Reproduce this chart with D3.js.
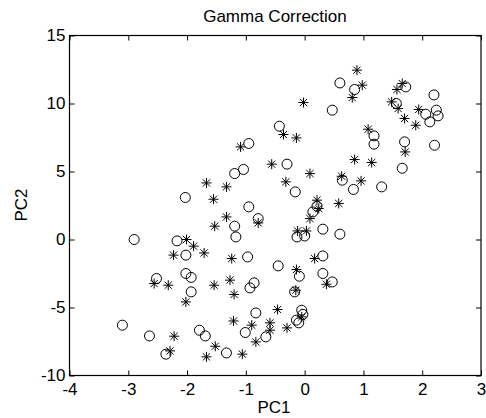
<!DOCTYPE html>
<html>
<head>
<meta charset="utf-8">
<script src="https://cdn.jsdelivr.net/npm/d3@7"></script>
<style>
  html, body { margin: 0; padding: 0; background: #fff; }
  svg { display: block; }
  text { font-family: "Liberation Sans", Arial, sans-serif; fill: #000; }
</style>
</head>
<body>
<svg id="chart" width="486" height="418"></svg>
<script>
const title = "Gamma Correction";
const xLabel = "PC1";
const yLabel = "PC2";
const xTicks = [-4, -3, -2, -1, 0, 1, 2, 3];
const yTicks = [-10, -5, 0, 5, 10, 15];
const xDomain = [-4, 3];
const yDomain = [-10, 15];

// Series 1: circles (PC1, PC2)
const circleX = [0.60, 0.47, -0.43, -0.95, 0.85, 1.72, 2.20, 1.56, 2.24, 2.06, 2.27, 2.13, 1.18, 1.18, 1.70, 2.21,
  1.66, 0.64, 0.83, 1.31, 0.60, -0.30, -1.19, -1.04, -0.16, -0.95, 0.21, 0.14, -0.79, -1.19, -1.17, -0.13,
  0.00, 0.31, -0.97, 0.31, -2.03, -2.90, -2.17, -2.02, -2.52, -2.02, -1.93, -1.93, -3.10, -2.64, -1.79, -1.69,
  -2.36, -0.45, -0.09, 0.31, 0.47, -0.86, -0.93, -0.17, -0.83, -0.05, -0.03, -0.14, -0.10, -1.01, -0.66, -1.33];
const circleY = [11.51, 9.51, 8.33, 7.06, 11.03, 11.22, 10.63, 10.00, 9.51, 9.21, 9.09, 8.65, 7.62, 7.01, 7.18, 6.93,
  5.24, 4.36, 3.68, 3.87, 0.39, 5.54, 4.85, 5.15, 3.50, 2.40, 2.45, 2.03, 1.54, 0.98, 0.19, 0.19,
  0.26, 0.76, -1.28, -1.21, 3.09, 0.00, -0.10, -1.15, -2.87, -2.50, -2.79, -3.85, -6.30, -7.09, -6.67, -7.09,
  -8.43, -1.94, -2.70, -2.50, -3.12, -3.19, -3.56, -3.85, -5.40, -5.20, -5.51, -5.93, -6.13, -6.84, -7.16, -8.34];

// Series 2: asterisks (PC1, PC2)
const starX = [-0.02, -0.36, -0.14, -1.09, 0.89, 0.98, 0.81, 1.66, 1.57, 1.48, 1.59, 1.94, 1.70, 1.89, 1.08, 1.71,
  0.85, 1.14, 0.63, 0.96, 0.58, -0.56, 0.09, -1.67, -1.33, -0.32, -1.55, 0.21, 0.24, 0.09, -1.33, -0.79,
  -1.53, -0.12, 0.03, -1.71, -1.24, 0.17, -2.01, -1.89, -2.23, -2.56, -2.32, -2.02, -2.22, -2.29, -1.67, -0.14,
  0.37, -1.54, -1.27, -1.20, -0.15, -0.46, -0.05, -1.21, -0.90, -0.59, -0.59, -0.30, -0.83, -1.52, -1.06];
const starY = [10.07, 7.72, 7.47, 6.81, 12.45, 11.35, 10.44, 11.47, 11.03, 10.12, 9.63, 9.56, 8.90, 8.40, 8.11, 6.44,
  5.88, 5.66, 4.65, 4.31, 2.65, 5.54, 4.85, 4.16, 3.87, 4.24, 2.96, 2.89, 2.28, 1.54, 1.66, 1.22,
  0.98, 0.63, 0.63, -0.99, -1.40, -1.40, 0.00, -0.49, -1.15, -3.24, -3.36, -4.59, -7.11, -8.19, -8.63, -2.21,
  -3.29, -3.36, -2.99, -4.04, -3.73, -5.15, -5.69, -5.99, -6.30, -6.13, -6.67, -6.50, -7.53, -7.85, -8.43];

const svg = d3.select("#chart");
const L = 69.5, R = 481, T = 35.5, B = 375.5;
const x = d3.scaleLinear().domain(xDomain).range([L, R]);
const y = d3.scaleLinear().domain(yDomain).range([B, T]);
const FS = 17;
const fmt = d => String(d); // plain hyphen-minus like the reference

// frame
svg.append("rect").attr("x", L).attr("y", T).attr("width", R - L).attr("height", B - T)
  .attr("fill", "none").attr("stroke", "#000").attr("stroke-width", 1.2);

function styleAxis(g) {
  g.select(".domain").remove();
  g.selectAll(".tick line").attr("stroke", "#000").attr("stroke-width", 1);
  g.selectAll(".tick text").attr("font-size", FS).attr("font-family", "Liberation Sans, Arial, sans-serif").attr("fill", "#000");
}

svg.append("g").attr("transform", `translate(0,${B})`)
  .call(d3.axisBottom(x).tickValues(xTicks).tickFormat(fmt).tickSizeInner(-5).tickSizeOuter(0).tickPadding(7))
  .call(styleAxis);
svg.append("g").attr("transform", `translate(0,${T})`)
  .call(d3.axisTop(x).tickValues(xTicks).tickFormat("").tickSizeInner(-5).tickSizeOuter(0))
  .call(styleAxis);
svg.append("g").attr("transform", `translate(${L},0)`)
  .call(d3.axisLeft(y).tickValues(yTicks).tickFormat(fmt).tickSizeInner(-5).tickSizeOuter(0).tickPadding(4))
  .call(styleAxis);
svg.append("g").attr("transform", `translate(${R},0)`)
  .call(d3.axisRight(y).tickValues(yTicks).tickFormat("").tickSizeInner(-5).tickSizeOuter(0))
  .call(styleAxis);

// labels
svg.append("text").attr("x", 275).attr("y", 22).attr("text-anchor", "middle").attr("font-size", FS).text(title);
svg.append("text").attr("x", 274).attr("y", 413).attr("text-anchor", "middle").attr("font-size", FS).text(xLabel);
svg.append("text").attr("transform", "translate(26.5,205) rotate(-90)").attr("text-anchor", "middle").attr("font-size", FS).text(yLabel);

// data
const circles = circleX.map((v, i) => ({ x: v, y: circleY[i] }));
const stars = starX.map((v, i) => ({ x: v, y: starY[i] }));

svg.append("g").selectAll("circle").data(circles).join("circle")
  .attr("cx", d => x(d.x)).attr("cy", d => y(d.y)).attr("r", 5)
  .attr("fill", "none").attr("stroke", "#000").attr("stroke-width", 1);

const a = 5, b = 3.6;
const starPath = `M${-a},0L${a},0M0,${-a}L0,${a}M${-b},${-b}L${b},${b}M${-b},${b}L${b},${-b}`;
svg.append("g").selectAll("path").data(stars).join("path")
  .attr("transform", d => `translate(${x(d.x)},${y(d.y)})`)
  .attr("d", starPath)
  .attr("fill", "none").attr("stroke", "#000").attr("stroke-width", 1);
</script>
</body>
</html>
